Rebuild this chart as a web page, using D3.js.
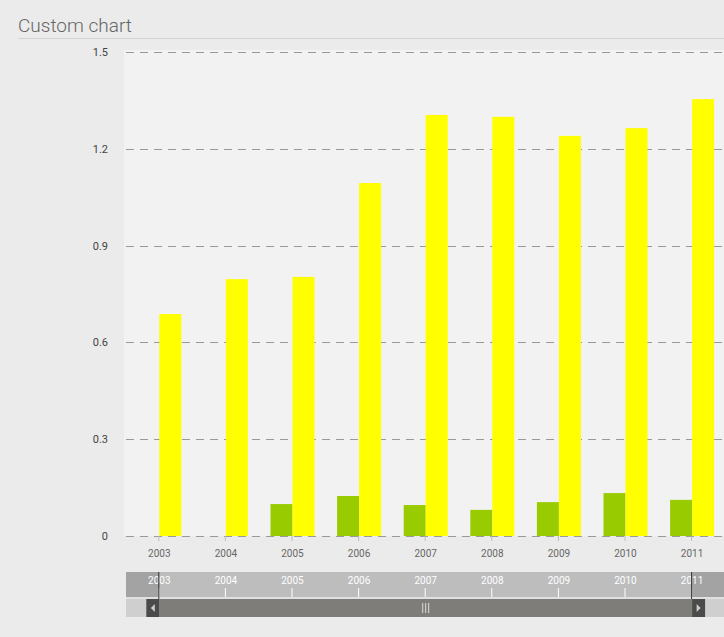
<!DOCTYPE html>
<html>
<head>
<meta charset="utf-8">
<script src="https://cdn.jsdelivr.net/npm/d3@7"></script>
<style>
  body { margin: 0; background: #ebebeb; }
  svg { display: block; font-family: Roboto, "Helvetica Neue", Arial, sans-serif; }
</style>
</head>
<body>
<svg id="chart" width="724" height="637"></svg>
<script>
const years = ['2003', '2004', '2005', '2006', '2007', '2008', '2009', '2010', '2011'];
const greenValues = [0, 0, 0.099, 0.124, 0.096, 0.081, 0.105, 0.133, 0.112];
const yellowValues = [0.688, 0.796, 0.803, 1.094, 1.305, 1.299, 1.240, 1.264, 1.354];
const yTicks = [0, 0.3, 0.6, 0.9, 1.2, 1.5];

const COLORS = {
  green: '#99cc00',
  yellow: '#ffff00'
};

const PLOT = { left: 126, right: 725.4, top: 52, bottom: 536 };
const BAR_W = 22;

const svg = d3.select('#chart');

// title
svg.append('text')
  .attr('x', 18)
  .attr('y', 32)
  .attr('font-size', 19)
  .attr('font-weight', 300)
  .attr('fill', '#666')
  .text('Custom chart');

svg.append('line')
  .attr('x1', 18).attr('x2', 724)
  .attr('y1', 38.5).attr('y2', 38.5)
  .attr('stroke', '#d2d2d2');

// plot bg
svg.append('rect')
  .attr('x', 124)
  .attr('y', 50)
  .attr('width', 724 - 124)
  .attr('height', PLOT.bottom - 50)
  .attr('fill', '#f2f2f2');

const x = d3.scaleBand()
  .domain(years)
  .range([PLOT.left, PLOT.right]);

const y = d3.scaleLinear()
  .domain([0, 1.5])
  .range([PLOT.bottom, PLOT.top]);

// grid
svg.append('g')
  .selectAll('line')
  .data(yTicks)
  .enter()
  .append('line')
  .attr('x1', PLOT.left)
  .attr('x2', 724)
  .attr('y1', d => Math.round(y(d)) + 0.5)
  .attr('y2', d => Math.round(y(d)) + 0.5)
  .attr('stroke', '#999')
  .attr('stroke-dasharray', '8,6');

// y labels
svg.append('g')
  .selectAll('text')
  .data(yTicks)
  .enter()
  .append('text')
  .attr('x', 108)
  .attr('y', d => y(d) + 4)
  .attr('text-anchor', 'end')
  .attr('font-size', 11)
  .attr('fill', '#444')
  .text(d => d === 0 ? '0' : d.toFixed(1));

// bars
const groups = svg.append('g')
  .selectAll('g')
  .data(years)
  .enter()
  .append('g')
  .attr('transform', d => 'translate(' + (x(d) + x.bandwidth() / 2) + ',0)');

groups.append('rect')
  .attr('x', -BAR_W)
  .attr('width', BAR_W)
  .attr('y', (d, i) => y(greenValues[i]))
  .attr('height', (d, i) => y(0) - y(greenValues[i]))
  .attr('fill', COLORS.green);

groups.append('rect')
  .attr('x', 0)
  .attr('width', BAR_W)
  .attr('y', (d, i) => y(yellowValues[i]))
  .attr('height', (d, i) => y(0) - y(yellowValues[i]))
  .attr('fill', COLORS.yellow);

// x axis ticks + labels
const xAxis = svg.append('g');
xAxis.selectAll('line')
  .data(years)
  .enter()
  .append('line')
  .attr('x1', d => x(d) + x.bandwidth() / 2 - 0.5)
  .attr('x2', d => x(d) + x.bandwidth() / 2 - 0.5)
  .attr('y1', PLOT.bottom)
  .attr('y2', PLOT.bottom + 5)
  .attr('stroke', '#bbb');
xAxis.selectAll('text')
  .data(years)
  .enter()
  .append('text')
  .attr('x', d => x(d) + x.bandwidth() / 2)
  .attr('y', 557)
  .attr('text-anchor', 'middle')
  .attr('font-size', 10)
  .attr('fill', '#666')
  .text(d => d);

// navigator
const NAV = { top: 572, bandBottom: 597, barTop: 599, bottom: 617 };
const selLeft = x(years[0]) + x.bandwidth() / 2;
const selRight = x(years[years.length - 1]) + x.bandwidth() / 2;

svg.append('rect')
  .attr('x', PLOT.left).attr('y', NAV.top)
  .attr('width', 724 - PLOT.left).attr('height', NAV.bandBottom - NAV.top)
  .attr('fill', '#bdbdbd');
svg.append('rect')
  .attr('x', PLOT.left).attr('y', NAV.top)
  .attr('width', selLeft - PLOT.left).attr('height', NAV.bandBottom - NAV.top)
  .attr('fill', '#a3a3a3');
svg.append('rect')
  .attr('x', selRight).attr('y', NAV.top)
  .attr('width', 724 - selRight).attr('height', NAV.bandBottom - NAV.top)
  .attr('fill', '#a3a3a3');
svg.append('rect')
  .attr('x', PLOT.left).attr('y', NAV.bandBottom)
  .attr('width', 724 - PLOT.left).attr('height', NAV.barTop - NAV.bandBottom)
  .attr('fill', '#e0e0e0');

const nav = svg.append('g');
nav.selectAll('line')
  .data(years)
  .enter()
  .append('line')
  .attr('x1', d => x(d) + x.bandwidth() / 2 - 0.5)
  .attr('x2', d => x(d) + x.bandwidth() / 2 - 0.5)
  .attr('y1', 588)
  .attr('y2', NAV.bandBottom)
  .attr('stroke', '#fff');
nav.selectAll('text')
  .data(years)
  .enter()
  .append('text')
  .attr('x', d => x(d) + x.bandwidth() / 2)
  .attr('y', 584)
  .attr('text-anchor', 'middle')
  .attr('font-size', 10)
  .attr('fill', '#fff')
  .text(d => d);

// scrollbar
svg.append('rect')
  .attr('x', PLOT.left).attr('y', NAV.barTop)
  .attr('width', 724 - PLOT.left).attr('height', NAV.bottom - NAV.barTop)
  .attr('fill', '#cfcfcf');
svg.append('rect')
  .attr('x', selLeft).attr('y', NAV.barTop)
  .attr('width', selRight - selLeft).attr('height', NAV.bottom - NAV.barTop)
  .attr('fill', '#7e7d79');

[[selLeft - 13, 'left'], [selRight, 'right']].forEach(([bx, dir]) => {
  svg.append('rect')
    .attr('x', bx).attr('y', NAV.barTop)
    .attr('width', 13).attr('height', NAV.bottom - NAV.barTop)
    .attr('fill', '#4a4a4a');
  const cx = bx + 6.5, cy = (NAV.barTop + NAV.bottom) / 2;
  const pts = dir === 'left'
    ? [[cx + 2, cy - 4], [cx + 2, cy + 4], [cx - 2, cy]]
    : [[cx - 2, cy - 4], [cx - 2, cy + 4], [cx + 2, cy]];
  svg.append('polygon')
    .attr('points', pts.map(p => p.join(',')).join(' '))
    .attr('fill', '#ccc');
});

// grip
const gx = (selLeft + selRight) / 2;
[-3, 0, 3].forEach(o => {
  svg.append('line')
    .attr('x1', gx + o).attr('x2', gx + o)
    .attr('y1', NAV.barTop + 4).attr('y2', NAV.bottom - 4)
    .attr('stroke', '#ddd');
});

// handles
[selLeft, selRight].forEach(hx => {
  svg.append('line')
    .attr('x1', hx - 0.5).attr('x2', hx - 0.5)
    .attr('y1', NAV.top).attr('y2', NAV.barTop)
    .attr('stroke', '#333');
});
</script>
</body>
</html>
